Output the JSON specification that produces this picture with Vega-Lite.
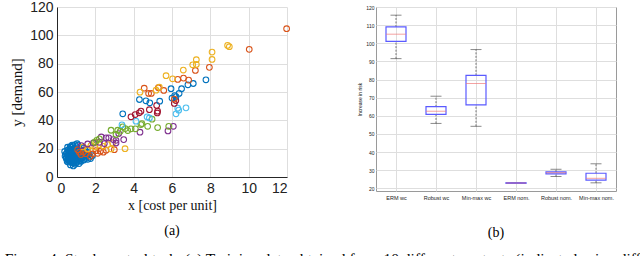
{
  "$schema": "https://vega.github.io/schema/vega-lite/v6.json",
  "background": "white",
  "padding": {"left": 4, "top": 0, "right": 0, "bottom": 0},
  "spacing": 65,
  "title": {"text": "Figure 4: Stock control task: (a) Training data obtained from 10 different contexts (indicated using different", "orient": "bottom", "anchor": "start", "dx": -5, "offset": 12, "font": "Liberation Serif", "fontSize": 15.5, "fontWeight": "normal", "color": "black"},
  "config": {
    "view": {"stroke": null},
    "axis": {"gridColor": "#dedede", "gridWidth": 1, "domainColor": "#262626", "tickColor": "#262626", "labelColor": "#222222", "titleColor": "#111111", "titleFontWeight": "normal", "labelOverlap": false}
  },
  "hconcat": [
    {
      "width": 230,
      "height": 170,
      "title": {"text": "(a)", "orient": "bottom", "frame": "group", "offset": 12, "font": "Liberation Serif", "fontSize": 14, "fontWeight": "normal", "color": "black"},
      "data": {"values": [
        {"c":"c1","x":0.5,"y":14},{"c":"c1","x":0.52,"y":17},{"c":"c1","x":0.55,"y":19},{"c":"c1","x":0.58,"y":12},{"c":"c1","x":0.6,"y":15.5},{"c":"c1","x":0.62,"y":18},{"c":"c1","x":0.65,"y":13},{"c":"c1","x":0.66,"y":20},{"c":"c1","x":0.68,"y":16},{"c":"c1","x":0.7,"y":11},{"c":"c1","x":0.7,"y":14.5},{"c":"c1","x":0.72,"y":17.5},{"c":"c1","x":0.74,"y":21},{"c":"c1","x":0.75,"y":12.5},{"c":"c1","x":0.76,"y":15},{"c":"c1","x":0.78,"y":19},{"c":"c1","x":0.8,"y":10},{"c":"c1","x":0.8,"y":13.5},{"c":"c1","x":0.82,"y":16.5},{"c":"c1","x":0.83,"y":18.5},{"c":"c1","x":0.85,"y":22},{"c":"c1","x":0.86,"y":14},{"c":"c1","x":0.88,"y":11.5},{"c":"c1","x":0.9,"y":15},{"c":"c1","x":0.9,"y":17.5},{"c":"c1","x":0.92,"y":20},{"c":"c1","x":0.94,"y":12.5},{"c":"c1","x":0.95,"y":9},{"c":"c1","x":0.96,"y":16},{"c":"c1","x":0.98,"y":18.5},{"c":"c1","x":1.0,"y":13.5},{"c":"c1","x":1.0,"y":21.5},{"c":"c1","x":1.02,"y":15},{"c":"c1","x":1.04,"y":17},{"c":"c1","x":1.05,"y":11},{"c":"c1","x":1.06,"y":19.5},{"c":"c1","x":1.08,"y":14},{"c":"c1","x":1.1,"y":16.5},{"c":"c1","x":1.1,"y":22.5},{"c":"c1","x":1.12,"y":12},{"c":"c1","x":1.14,"y":18},{"c":"c1","x":1.16,"y":15},{"c":"c1","x":1.18,"y":20},{"c":"c1","x":1.2,"y":13},{"c":"c1","x":1.22,"y":17},{"c":"c1","x":1.25,"y":11},{"c":"c1","x":1.26,"y":15.5},{"c":"c1","x":1.3,"y":18.5},{"c":"c1","x":1.32,"y":13.5},{"c":"c1","x":1.35,"y":16},{"c":"c1","x":1.4,"y":12},{"c":"c1","x":1.42,"y":14.5},{"c":"c1","x":1.45,"y":17.5},{"c":"c1","x":1.5,"y":13},{"c":"c1","x":1.55,"y":15},{"c":"c1","x":1.6,"y":12.5},{"c":"c1","x":1.65,"y":16},{"c":"c1","x":1.7,"y":14},{"c":"c1","x":1.75,"y":13},{"c":"c1","x":1.85,"y":15},{"c":"c1","x":0.45,"y":16},{"c":"c1","x":0.48,"y":13},{"c":"c1","x":0.55,"y":21},{"c":"c1","x":0.6,"y":10.5},{"c":"c1","x":0.7,"y":8.5},{"c":"c1","x":1.0,"y":10},{"c":"c1","x":0.85,"y":7.8},{"c":"c1","x":1.15,"y":9.5},
        {"c":"c1","x":0.56,"y":15},{"c":"c1","x":0.63,"y":16.8},{"c":"c1","x":0.67,"y":14},{"c":"c1","x":0.71,"y":19.5},{"c":"c1","x":0.73,"y":13},{"c":"c1","x":0.77,"y":16.2},{"c":"c1","x":0.79,"y":17.8},{"c":"c1","x":0.81,"y":12},{"c":"c1","x":0.84,"y":15.2},{"c":"c1","x":0.87,"y":19.8},{"c":"c1","x":0.89,"y":13.2},{"c":"c1","x":0.91,"y":16.2},{"c":"c1","x":0.93,"y":18},{"c":"c1","x":0.97,"y":14.2},{"c":"c1","x":0.99,"y":11.8},{"c":"c1","x":1.01,"y":17.8},{"c":"c1","x":1.03,"y":19.8},{"c":"c1","x":1.07,"y":12.8},{"c":"c1","x":1.09,"y":15.5},{"c":"c1","x":1.11,"y":18.8},{"c":"c1","x":1.13,"y":14.5},{"c":"c1","x":1.17,"y":16.8},{"c":"c1","x":1.19,"y":11.5},{"c":"c1","x":1.21,"y":15},{"c":"c1","x":1.24,"y":19},{"c":"c1","x":1.28,"y":14},{"c":"c1","x":1.33,"y":17},{"c":"c1","x":1.38,"y":15},{"c":"c1","x":0.6,"y":13.5},{"c":"c1","x":0.64,"y":11.5},{"c":"c1","x":0.69,"y":21.5},{"c":"c1","x":0.75,"y":10.5},{"c":"c1","x":0.79,"y":22.5},{"c":"c1","x":0.86,"y":9.8},{"c":"c1","x":0.95,"y":22.8},{"c":"c1","x":1.05,"y":23.5},{"c":"c1","x":0.4,"y":18},{"c":"c1","x":0.42,"y":14.8},{"c":"c1","x":0.53,"y":11},{"c":"c1","x":1.48,"y":19},{"c":"c1","x":1.58,"y":17.5},{"c":"c1","x":1.36,"y":20.5},
        {"c":"c2","x":1.25,"y":15.8},{"c":"c2","x":1.51,"y":16.5},{"c":"c2","x":1.86,"y":16.3},{"c":"c2","x":2.03,"y":18.6},{"c":"c2","x":2.26,"y":18.2},{"c":"c2","x":2.42,"y":17.5},{"c":"c2","x":2.56,"y":18.9},{"c":"c2","x":2.99,"y":19.3},{"c":"c2","x":1.6,"y":19.3},{"c":"c2","x":1.17,"y":17.5},{"c":"c2","x":1.37,"y":17.7},{"c":"c2","x":1.74,"y":14.6},{"c":"c2","x":2.12,"y":16.7},{"c":"c2","x":1.08,"y":19.3},
        {"c":"c3","x":1.37,"y":21.2},{"c":"c3","x":1.77,"y":22.2},{"c":"c3","x":2.03,"y":24.5},{"c":"c3","x":2.42,"y":21.7},{"c":"c3","x":2.82,"y":19.8},{"c":"c3","x":2.21,"y":22.9},{"c":"c3","x":1.97,"y":21.2},{"c":"c3","x":2.64,"y":22.9},{"c":"c3","x":1.6,"y":19.8},{"c":"c3","x":3.55,"y":20},{"c":"c3","x":2.9,"y":24.1},
        {"c":"c4","x":1.6,"y":23.3},{"c":"c4","x":1.27,"y":22.2},{"c":"c4","x":2.31,"y":28.3},{"c":"c4","x":2.21,"y":24.5},{"c":"c4","x":2.47,"y":23.6},{"c":"c4","x":2.56,"y":27.6},{"c":"c4","x":2.7,"y":27.6},{"c":"c4","x":2.94,"y":26.4},{"c":"c4","x":3.08,"y":25.9},{"c":"c4","x":3.08,"y":24},{"c":"c4","x":3.48,"y":26.4},{"c":"c4","x":4.33,"y":31.6},{"c":"c4","x":5.79,"y":32.5},{"c":"c4","x":6.07,"y":35.8},{"c":"c4","x":3.22,"y":30.7},{"c":"c4","x":1.9,"y":24},
        {"c":"c5","x":1.95,"y":24.5},{"c":"c5","x":2.07,"y":25.9},{"c":"c5","x":2.21,"y":26.9},{"c":"c5","x":2.82,"y":33},{"c":"c5","x":3.08,"y":30},{"c":"c5","x":3.17,"y":33},{"c":"c5","x":3.3,"y":32.3},{"c":"c5","x":3.56,"y":34.2},{"c":"c5","x":3.69,"y":32.8},{"c":"c5","x":3.86,"y":34},{"c":"c5","x":4.09,"y":34},{"c":"c5","x":4.38,"y":37},{"c":"c5","x":4.43,"y":37.7},{"c":"c5","x":4.73,"y":35.8},{"c":"c5","x":4.96,"y":40.8},{"c":"c5","x":5.25,"y":34.9},{"c":"c5","x":5.83,"y":35.8},{"c":"c5","x":3.43,"y":35.4},
        {"c":"c6","x":3.39,"y":36.8},{"c":"c6","x":4.12,"y":39.4},{"c":"c6","x":4.82,"y":41.7},{"c":"c6","x":4.7,"y":42.5},{"c":"c6","x":6.21,"y":44.6},{"c":"c6","x":6.35,"y":47.2},{"c":"c6","x":6.3,"y":48.6},{"c":"c6","x":6.73,"y":48.8},
        {"c":"c7","x":3.86,"y":42.5},{"c":"c7","x":4.08,"y":44.1},{"c":"c7","x":4.29,"y":45.3},{"c":"c7","x":4.38,"y":46.5},{"c":"c7","x":4.82,"y":47.5},{"c":"c7","x":5.25,"y":46.5},{"c":"c7","x":5.23,"y":45.2},{"c":"c7","x":5.2,"y":50.5},{"c":"c7","x":6.12,"y":51.9},{"c":"c7","x":6.2,"y":54},
        {"c":"c8","x":3.43,"y":44.6},{"c":"c8","x":4.3,"y":54.7},{"c":"c8","x":4.64,"y":53.8},{"c":"c8","x":4.84,"y":52.4},{"c":"c8","x":5.36,"y":53.5},{"c":"c8","x":5.95,"y":62.3},{"c":"c8","x":6.0,"y":55.7},{"c":"c8","x":6.14,"y":57.5},{"c":"c8","x":6.21,"y":56.8},{"c":"c8","x":6.37,"y":59},{"c":"c8","x":6.5,"y":62.3},{"c":"c8","x":6.83,"y":65.1},{"c":"c8","x":7.11,"y":66},{"c":"c8","x":7.77,"y":68.6},
        {"c":"c9","x":4.55,"y":62.7},{"c":"c9","x":4.78,"y":59},{"c":"c9","x":4.92,"y":59},{"c":"c9","x":5.29,"y":63},{"c":"c9","x":5.57,"y":61.1},{"c":"c9","x":6.12,"y":55},{"c":"c9","x":6.3,"y":68.9},{"c":"c9","x":6.6,"y":69.8},{"c":"c9","x":6.87,"y":68.4},{"c":"c9","x":7.22,"y":75.2},{"c":"c9","x":7.95,"y":77.4},{"c":"c9","x":10.03,"y":90.1},{"c":"c9","x":11.98,"y":104.7},
        {"c":"c10","x":4.33,"y":59.9},{"c":"c10","x":5.17,"y":61.3},{"c":"c10","x":5.34,"y":63.4},{"c":"c10","x":5.69,"y":71.5},{"c":"c10","x":6.03,"y":69.3},{"c":"c10","x":6.59,"y":75.5},{"c":"c10","x":7.08,"y":79.2},{"c":"c10","x":7.27,"y":79.5},{"c":"c10","x":7.27,"y":82.8},{"c":"c10","x":8.09,"y":83},{"c":"c10","x":8.09,"y":88.2},{"c":"c10","x":8.9,"y":92.9},{"c":"c10","x":8.99,"y":92}
      ]},
      "mark": {"type": "point", "shape": "circle", "filled": false, "size": 32, "strokeWidth": 1.1, "opacity": 1},
      "encoding": {
        "x": {"field": "x", "type": "quantitative", "scale": {"domain": [0, 12], "nice": false},
              "axis": {"values": [0, 2, 4, 6, 8, 10, 12], "title": "x [cost per unit]", "titleFont": "Liberation Serif", "titleFontSize": 14, "titlePadding": 3, "labelFont": "Liberation Sans", "labelFontSize": 14, "labelPadding": 4, "tickSize": 0, "grid": true}},
        "y": {"field": "y", "type": "quantitative", "scale": {"domain": [0, 120], "nice": false},
              "axis": {"values": [0, 20, 40, 60, 80, 100, 120], "title": "y [demand]", "titleFont": "Liberation Serif", "titleFontSize": 15, "titlePadding": 5, "labelFont": "Liberation Sans", "labelFontSize": 14, "labelPadding": 4, "tickSize": 0, "grid": true}},
        "color": {"field": "c", "type": "nominal", "legend": null,
                  "scale": {"domain": ["c1","c2","c3","c4","c5","c6","c7","c8","c9","c10"],
                            "range": ["#0072BD","#D95319","#EDB120","#7E2F8E","#77AC30","#4DBEEE","#A2142F","#0072BD","#D95319","#EDB120"]}}
      }
    },
    {
      "width": 240,
      "height": 184,
      "view": {"stroke": "#9a9a9a", "strokeWidth": 1},
      "title": {"text": "(b)", "orient": "bottom", "frame": "group", "offset": 25, "font": "Liberation Serif", "fontSize": 14, "fontWeight": "normal", "color": "black"},
      "data": {"values": [
        {"m": "ERM wc", "lo": 91.5, "q1": 101, "med": 105, "q3": 109, "hi": 115.5},
        {"m": "Robust wc", "lo": 55.8, "q1": 60.8, "med": 62.5, "q3": 65, "hi": 70.8},
        {"m": "Min-max wc", "lo": 54.2, "q1": 66, "med": 77.8, "q3": 82.3, "hi": 96.5},
        {"m": "ERM nom.", "lo": 22.6, "q1": 22.7, "med": 22.9, "q3": 23.1, "hi": 23.2},
        {"m": "Robust nom.", "lo": 26.5, "q1": 28, "med": 28.6, "q3": 29, "hi": 30.5},
        {"m": "Min-max nom.", "lo": 23, "q1": 24.5, "med": 25.5, "q3": 28.3, "hi": 33.5}
      ]},
      "encoding": {
        "x": {"field": "m", "type": "nominal", "sort": null, "scale": {"type": "point", "padding": 0.5},
              "axis": {"title": null, "labelAngle": 0, "labelFont": "Liberation Sans", "labelFontSize": 5.5, "labelPadding": 4, "tickSize": 0, "domain": false, "grid": true}}
      },
      "layer": [
        {"mark": {"type": "rule", "strokeDash": [2, 1.5], "color": "#555555", "strokeWidth": 0.8},
         "encoding": {"y": {"field": "lo", "type": "quantitative", "title": "Increase in risk", "scale": {"domain": [18.5, 120], "nice": false, "zero": false},
                            "axis": {"values": [20, 30, 40, 50, 60, 70, 80, 90, 100, 110, 120], "tickCount": 11, "labelFont": "Liberation Sans", "labelFontSize": 5, "labelPadding": 2, "tickSize": 0, "domain": false, "grid": true, "labelOverlap": false, "titleFont": "Liberation Sans", "titleFontSize": 5, "titlePadding": 3}},
                      "y2": {"field": "q1"}}},
        {"mark": {"type": "rule", "strokeDash": [2, 1.5], "color": "#555555", "strokeWidth": 0.8},
         "encoding": {"y": {"field": "q3", "type": "quantitative", "title": "Increase in risk",
                            "axis": {"values": [20, 30, 40, 50, 60, 70, 80, 90, 100, 110, 120], "tickCount": 11, "labelFont": "Liberation Sans", "labelFontSize": 5, "labelPadding": 2, "tickSize": 0, "domain": false, "grid": true, "labelOverlap": false, "titleFont": "Liberation Sans", "titleFontSize": 5, "titlePadding": 3}},
                      "y2": {"field": "hi"}}},
        {"mark": {"type": "tick", "size": 11, "thickness": 0.9, "color": "#444444"},
         "encoding": {"y": {"field": "lo", "type": "quantitative", "title": "Increase in risk",
                            "axis": {"values": [20, 30, 40, 50, 60, 70, 80, 90, 100, 110, 120], "tickCount": 11, "labelFont": "Liberation Sans", "labelFontSize": 5, "labelPadding": 2, "tickSize": 0, "domain": false, "grid": true, "labelOverlap": false, "titleFont": "Liberation Sans", "titleFontSize": 5, "titlePadding": 3}}}},
        {"mark": {"type": "tick", "size": 11, "thickness": 0.9, "color": "#444444"},
         "encoding": {"y": {"field": "hi", "type": "quantitative", "title": "Increase in risk",
                            "axis": {"values": [20, 30, 40, 50, 60, 70, 80, 90, 100, 110, 120], "tickCount": 11, "labelFont": "Liberation Sans", "labelFontSize": 5, "labelPadding": 2, "tickSize": 0, "domain": false, "grid": true, "labelOverlap": false, "titleFont": "Liberation Sans", "titleFontSize": 5, "titlePadding": 3}}}},
        {"mark": {"type": "bar", "width": 20, "fillOpacity": 0, "stroke": "#5a5aff", "strokeWidth": 1.2},
         "encoding": {"y": {"field": "q1", "type": "quantitative", "title": "Increase in risk",
                            "axis": {"values": [20, 30, 40, 50, 60, 70, 80, 90, 100, 110, 120], "tickCount": 11, "labelFont": "Liberation Sans", "labelFontSize": 5, "labelPadding": 2, "tickSize": 0, "domain": false, "grid": true, "labelOverlap": false, "titleFont": "Liberation Sans", "titleFontSize": 5, "titlePadding": 3}},
                      "y2": {"field": "q3"}}},
        {"mark": {"type": "tick", "size": 20, "thickness": 1, "color": "#f07a7a"},
         "encoding": {"y": {"field": "med", "type": "quantitative", "title": "Increase in risk",
                            "axis": {"values": [20, 30, 40, 50, 60, 70, 80, 90, 100, 110, 120], "tickCount": 11, "labelFont": "Liberation Sans", "labelFontSize": 5, "labelPadding": 2, "tickSize": 0, "domain": false, "grid": true, "labelOverlap": false, "titleFont": "Liberation Sans", "titleFontSize": 5, "titlePadding": 3}}}}
      ]
    }
  ]
}
